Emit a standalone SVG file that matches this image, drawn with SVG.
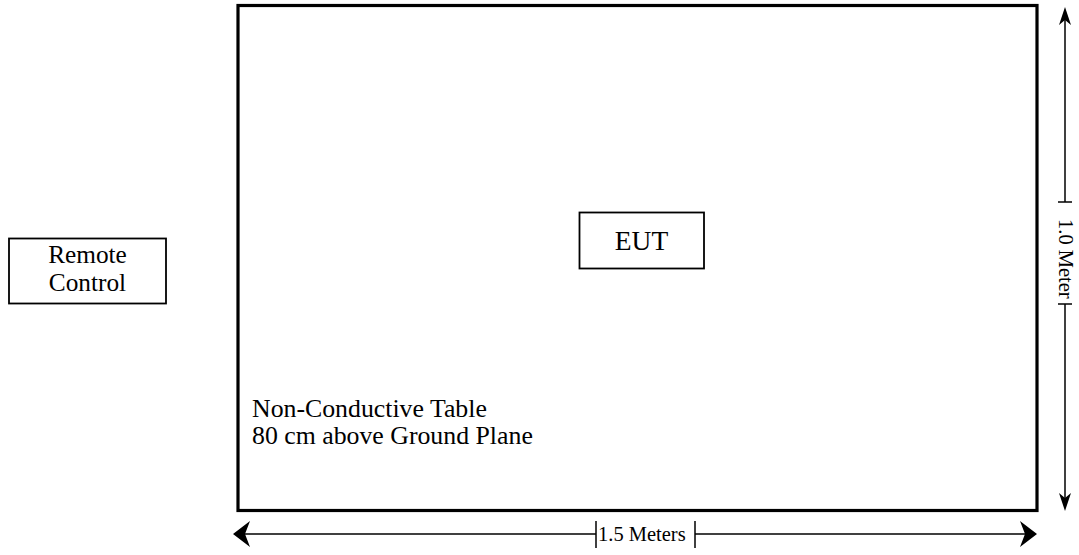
<svg xmlns="http://www.w3.org/2000/svg" width="1079" height="555" viewBox="0 0 1079 555" font-family="Liberation Serif, Times New Roman, serif">
<style>
.box{fill:#fff;stroke:#000;stroke-width:1.8}
.dim{stroke:#000;stroke-width:1.5;fill:none}
.head{fill:#000;stroke:none}
</style>
<rect width="1079" height="555" fill="#fff"/>
<g id="table">
<rect x="238" y="5.5" width="799" height="505" fill="none" stroke="#000" stroke-width="3.2"/>
<text x="252" y="417" font-size="25.8" font-family="Liberation Serif, serif">Non-Conductive Table</text>
<text x="252" y="444" font-size="25.8" font-family="Liberation Serif, serif">80 cm above Ground Plane</text>
</g>
<g id="eut">
<rect class="box" x="579.5" y="212.5" width="124.5" height="56"/>
<text x="641.5" y="249.5" font-size="27.5" text-anchor="middle" font-family="Liberation Serif, serif">EUT</text>
</g>
<g id="remote">
<rect class="box" x="9" y="238.5" width="157" height="65"/>
<text x="87.5" y="263" font-size="25.3" text-anchor="middle" font-family="Liberation Serif, serif">Remote</text>
<text x="87.5" y="291" font-size="25.3" text-anchor="middle" font-family="Liberation Serif, serif">Control</text>
</g>
<g id="connectors">
<g id="width-dim">
<line class="dim" x1="240" y1="534" x2="596" y2="534"/>
<line class="dim" x1="695" y1="534" x2="1030" y2="534"/>
<line class="dim" x1="596" y1="521" x2="596" y2="548"/>
<line class="dim" x1="695" y1="521" x2="695" y2="548"/>
<polygon class="head" points="233,534 250,521 245,534 250,547"/>
<polygon class="head" points="1037,534 1020,521 1025,534 1020,547"/>
<text x="598" y="541" font-size="20.5" font-family="Liberation Serif, serif">1.5 Meters</text>
</g>
<g id="height-dim">
<line class="dim" x1="1065" y1="14" x2="1065" y2="202"/>
<line class="dim" x1="1065" y1="304" x2="1065" y2="504"/>
<line class="dim" x1="1058" y1="202" x2="1072" y2="202"/>
<line class="dim" x1="1058" y1="304" x2="1072" y2="304"/>
<polygon class="head" points="1065,7 1071,25 1065,20 1059,25"/>
<polygon class="head" points="1065,511 1071,493 1065,498 1059,493"/>
<text transform="translate(1059,219) rotate(90)" font-size="20.5" font-family="Liberation Serif, serif">1.0 Meter</text>
</g>
</g>
</svg>
